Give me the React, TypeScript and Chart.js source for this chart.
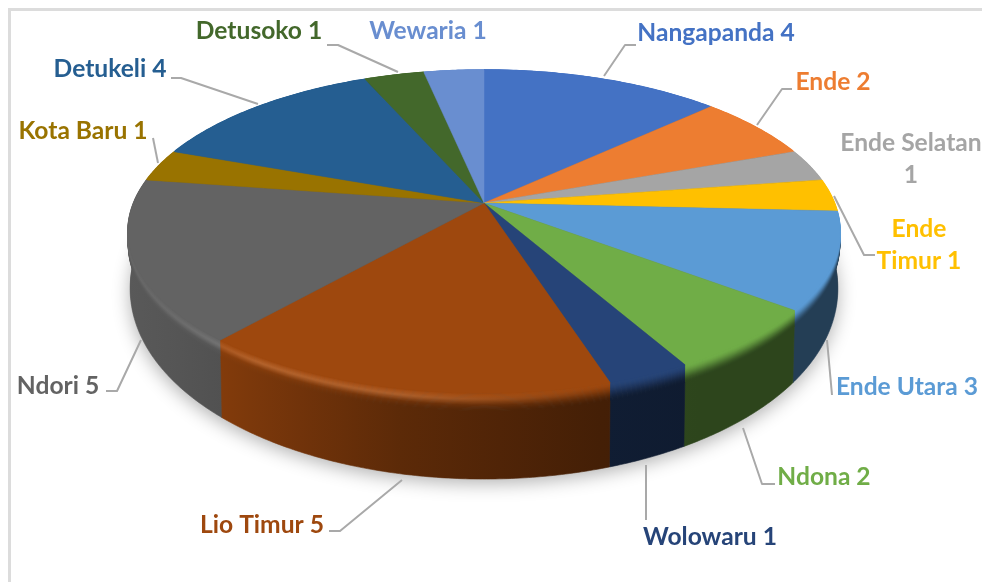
import React, { useEffect, useRef } from "react";
import { Chart, registerables } from "chart.js";

Chart.register(...registerables);

const districts = ["Nangapanda", "Ende", "Ende Selatan", "Ende Timur", "Ende Utara", "Ndona", "Wolowaru", "Lio Timur", "Ndori", "Kota Baru", "Detukeli", "Detusoko", "Wewaria"];
const counts = [4, 2, 1, 1, 3, 2, 1, 5, 5, 1, 4, 1, 1];
const sliceColors = ["#4472c4", "#ed7d31", "#a5a5a5", "#ffc000", "#5b9bd5", "#70ad47", "#264478", "#9e480e", "#636363", "#997300", "#255e91", "#43682b", "#698ed0"];

// Label placement, in page pixels: [text lines' centre x, first baseline-centre y, leader polyline]
const labelLayout: { x: number; y: number; lines: (n: string, v: number) => string[]; leader: number[][] }[] = [
  { x: 716, y: 33, lines: (n, v) => [`${n} ${v}`], leader: [[604, 76], [625, 45], [636, 45]] },
  { x: 833, y: 82, lines: (n, v) => [`${n} ${v}`], leader: [[757, 125], [782, 89], [792, 89]] },
  { x: 911, y: 143, lines: (n, v) => [n, `${v}`], leader: [] },
  { x: 919, y: 229, lines: (n, v) => ["Ende", `Timur ${v}`], leader: [[834, 196], [864, 255], [875, 255]] },
  { x: 907, y: 387, lines: (n, v) => [`${n} ${v}`], leader: [[827, 340], [832, 395]] },
  { x: 824, y: 477, lines: (n, v) => [`${n} ${v}`], leader: [[743, 428], [762, 484], [775, 484]] },
  { x: 710, y: 537, lines: (n, v) => [`${n} ${v}`], leader: [[646, 465], [646, 520]] },
  { x: 262, y: 525, lines: (n, v) => [`${n} ${v}`], leader: [[402, 480], [340, 531], [329, 531]] },
  { x: 58, y: 386, lines: (n, v) => [`${n} ${v}`], leader: [[141, 340], [117, 391], [106, 391]] },
  { x: 83, y: 131, lines: (n, v) => [`${n} ${v}`], leader: [[153, 138], [158, 163]] },
  { x: 110, y: 69, lines: (n, v) => [`${n} ${v}`], leader: [[171, 78], [181, 78], [258, 104]] },
  { x: 259, y: 31, lines: (n, v) => [`${n} ${v}`], leader: [[327, 45], [338, 45], [398, 72]] },
  { x: 428, y: 31, lines: (n, v) => [`${n} ${v}`], leader: [] },
];

// Perspective of the disc
const CX = 484, CY = 203, P = 0.1765, RX = 350.4, RY = 156.5;
const BEVEL = 17, SHRINK = 0.006;

const project = (angle: number, t: number): [number, number] => {
  const th = angle + Math.PI / 2;
  const u = Math.sin(th), v = -Math.cos(th), d = 1 - P * v;
  const x = (RX * u) / d, y = (RY * v) / d;
  const depth = 51 + 35 * v;
  return [CX + x * (1 - SHRINK * t), CY + y + t * depth];
};

const hexRgb = (h: string) => [1, 3, 5].map((i) => parseInt(h.slice(i, i + 2), 16));
const lerpStops = (stops: number[][], x: number) => {
  if (x <= stops[0][0]) return stops[0][1];
  for (let i = 1; i < stops.length; i++) {
    if (x <= stops[i][0]) {
      const f = (x - stops[i - 1][0]) / (stops[i][0] - stops[i - 1][0]);
      return stops[i - 1][1] + f * (stops[i][1] - stops[i - 1][1]);
    }
  }
  return stops[stops.length - 1][1];
};
const SHADE = [[128, 0.9], [222, 0.82], [400, 0.58], [610, 0.42], [700, 0.4], [840, 0.4]];
const SHINE = [[128, 0.02], [180, 0.05], [222, 0.08], [260, 0.12], [400, 0.12], [520, 0.04], [600, 0], [840, 0]];
const GRAD_X = [128, 180, 222, 260, 300, 400, 500, 600, 700, 840];

function bandStyle(ctx: CanvasRenderingContext2D, rgb: number[], s: number) {
  const g = ctx.createLinearGradient(GRAD_X[0], 0, GRAD_X[GRAD_X.length - 1], 0);
  const sm = s * s * (3 - 2 * s);
  const bump = Math.max(0, 1 - Math.abs(s - 0.32) / 0.32);
  for (const x of GRAD_X) {
    const m = 1 + (lerpStops(SHADE, x) - 1) * sm;
    const add = 255 * lerpStops(SHINE, x) * bump;
    const c = rgb.map((b) => Math.min(255, Math.round(b * m + add)));
    g.addColorStop((x - GRAD_X[0]) / (GRAD_X[GRAD_X.length - 1] - GRAD_X[0]), `rgb(${c[0]},${c[1]},${c[2]})`);
  }
  return g;
}

const disc3d = {
  id: "disc3d",
  beforeDatasetsDraw(chart: any) {
    const ctx: CanvasRenderingContext2D = chart.ctx;
    const arcs = chart.getDatasetMeta(0).data as any[];
    const STEP = 0.01;
    const samples = (a: any) => {
      const out: number[] = [];
      const n = Math.max(2, Math.ceil((a.endAngle - a.startAngle) / STEP));
      for (let i = 0; i <= n; i++) out.push(a.startAngle + ((a.endAngle - a.startAngle) * i) / n);
      return out;
    };

    // frame
    ctx.save();
    ctx.strokeStyle = "#dcdcdc";
    ctx.lineWidth = 3;
    ctx.beginPath();
    ctx.moveTo(9.5, 582);
    ctx.lineTo(9.5, 9.5);
    ctx.lineTo(982, 9.5);
    ctx.stroke();
    ctx.restore();

    // soft shadow below the disc
    ctx.save();
    ctx.shadowColor = "rgba(0,0,0,0.3)";
    ctx.shadowBlur = 18;
    ctx.shadowOffsetY = 8;
    ctx.fillStyle = "#555";
    ctx.beginPath();
    for (let i = 0; i <= 360; i++) {
      const [x, y] = project((i * Math.PI) / 180, 0.96);
      if (i === 0) ctx.moveTo(x, y);
      else ctx.lineTo(x, y);
    }
    ctx.closePath();
    ctx.fill();
    ctx.restore();

    // walls, back to front
    const order = arcs
      .map((a, i) => ({ a, i, front: Math.sin((a.startAngle + a.endAngle) / 2) }))
      .sort((p, q) => p.front - q.front);
    const BASE = 80;
    for (const { a } of order) {
      const rgb = hexRgb(a.options.backgroundColor);
      const angs = samples(a);
      ctx.beginPath();
      angs.forEach((an, i) => {
        const [x, y] = project(an, BEVEL / BASE);
        if (i === 0) ctx.moveTo(x, y);
        else ctx.lineTo(x, y);
      });
      for (let i = angs.length - 1; i >= 0; i--) {
        const [x, y] = project(angs[i], 1);
        ctx.lineTo(x, y);
      }
      ctx.closePath();
      const st = bandStyle(ctx, rgb, 1);
      ctx.fillStyle = st;
      ctx.strokeStyle = st;
      ctx.lineWidth = 0.6;
      ctx.fill();
      ctx.stroke();
      ctx.lineWidth = 1.6;
      for (let j = BEVEL; j >= 0; j--) {
        ctx.strokeStyle = bandStyle(ctx, rgb, j / BEVEL);
        ctx.beginPath();
        angs.forEach((an, i) => {
          const [x, y] = project(an, j / BASE);
          if (i === 0) ctx.moveTo(x, y);
          else ctx.lineTo(x, y);
        });
        ctx.stroke();
      }
    }

    // top face
    arcs.forEach((a) => {
      ctx.fillStyle = a.options.backgroundColor;
      ctx.strokeStyle = a.options.backgroundColor;
      ctx.lineWidth = 0.5;
      ctx.beginPath();
      ctx.moveTo(CX, CY);
      samples(a).forEach((an) => {
        const [x, y] = project(an, 0);
        ctx.lineTo(x, y);
      });
      ctx.closePath();
      ctx.fill();
      ctx.stroke();
    });

    // leaders and labels
    ctx.save();
    ctx.lineJoin = "round";
    labelLayout.forEach((l, i) => {
      if (l.leader.length) {
        ctx.strokeStyle = "#a9a9a9";
        ctx.lineWidth = 2;
        ctx.beginPath();
        l.leader.forEach(([x, y], k) => (k === 0 ? ctx.moveTo(x, y) : ctx.lineTo(x, y)));
        ctx.stroke();
      }
      ctx.fillStyle = sliceColors[i];
      ctx.font = "bold 24.6px Lato";
      ctx.textAlign = "center";
      ctx.textBaseline = "middle";
      l.lines(districts[i], counts[i]).forEach((t, k) => ctx.fillText(t, l.x, l.y + k * 32));
    });
    ctx.restore();
    return false;
  },
};

export default function App() {
  const ref = useRef<HTMLCanvasElement>(null);
  useEffect(() => {
    document.body.style.margin = "0";
    const chart = new Chart(ref.current!, {
      type: "pie",
      data: {
        labels: districts,
        datasets: [{ data: counts, backgroundColor: sliceColors, borderWidth: 0 }],
      },
      options: {
        animation: false,
        responsive: false,
        plugins: { legend: { display: false }, tooltip: { enabled: false } },
      },
      plugins: [disc3d as any],
    });
    return () => chart.destroy();
  }, []);
  return <canvas ref={ref} width={982} height={582} style={{ display: "block" }} />;
}
